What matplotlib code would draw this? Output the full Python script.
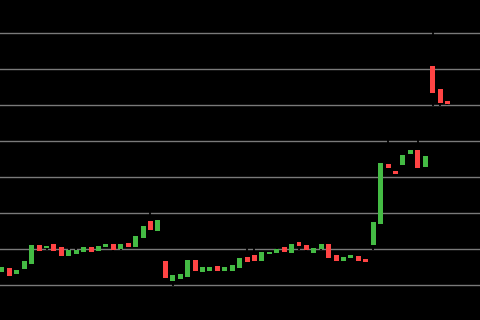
import matplotlib
matplotlib.use('Agg')
import matplotlib.pyplot as plt
import numpy as np

# candle data, one entry per session
opens = [13.6, 14.7, 13.0, 14.4, 15.8, 21.1, 20.3, 21.4, 20.6, 18.0,
         18.6, 19.1, 20.6, 19.4, 20.5, 21.4, 20.0, 21.7, 20.5, 23.0,
         27.8, 25.0, 16.7, 11.1, 11.7, 12.2, 16.9, 13.6, 13.9, 15.3,
         13.9, 13.9, 14.7, 17.8, 18.3, 16.7, 18.6, 18.9, 20.6, 18.9,
         21.9, 21.1, 18.9, 20.0, 21.4, 18.3, 16.7, 17.5, 18.1, 17.2,
         21.1, 26.9, 43.6, 41.7, 43.3, 46.4, 47.5, 42.8, 70.8, 64.4,
         61.1]
closes = [15.0, 12.5, 14.2, 16.7, 21.1, 19.4, 20.8, 19.4, 18.0, 19.7,
          19.7, 20.6, 19.1, 20.8, 21.4, 19.7, 21.4, 20.5, 23.6, 26.4,
          25.3, 28.1, 11.9, 12.8, 13.1, 16.9, 13.9, 15.0, 15.0, 13.9,
          15.0, 15.6, 17.5, 16.4, 16.7, 19.2, 19.2, 20.0, 19.1, 21.4,
          20.8, 19.7, 20.3, 21.4, 17.5, 16.7, 17.8, 18.3, 16.7, 16.4,
          27.5, 43.9, 42.5, 40.8, 46.1, 47.5, 42.5, 45.8, 63.3, 60.6,
          60.3]
highs = [15.3, 15.0, 14.5, 17.0, 21.4, 21.4, 21.1, 21.7, 20.9, 20.2,
         20.2, 20.9, 20.9, 21.1, 21.7, 21.7, 21.7, 22.0, 23.9, 26.7,
         30.3, 28.4, 17.0, 13.1, 13.4, 17.2, 17.2, 15.3, 15.3, 15.6,
         15.3, 15.9, 17.8, 20.2, 20.2, 19.5, 19.5, 20.3, 20.9, 21.7,
         22.2, 21.4, 20.6, 21.7, 21.7, 18.6, 18.1, 18.6, 18.4, 17.5,
         27.8, 44.2, 50.3, 42.0, 46.4, 47.8, 50.3, 46.1, 80.5, 64.7,
         61.4]
lows = [13.3, 12.2, 12.7, 14.1, 15.5, 19.1, 19.8, 19.1, 17.7, 17.7,
        18.3, 18.8, 18.8, 19.1, 20.2, 19.4, 19.7, 20.2, 20.2, 22.7,
        25.0, 24.7, 11.6, 9.7, 11.4, 11.9, 13.6, 13.3, 13.6, 13.6,
        13.6, 13.6, 14.4, 16.1, 16.4, 16.4, 18.3, 18.6, 18.8, 18.6,
        19.7, 19.4, 18.6, 19.7, 17.2, 16.4, 16.4, 17.2, 16.4, 16.1,
        19.7, 26.6, 42.2, 40.5, 43.0, 46.1, 42.2, 42.5, 59.7, 59.7,
        60.0]

o = np.array(opens)
c = np.array(closes)
x = np.arange(len(o))
colors = np.where(c >= o, '#44bb44', '#ff4444')

fig = plt.figure(figsize=(4.8, 3.2), dpi=100)
fig.patch.set_facecolor('black')
ax = fig.add_axes([0, 0, 1, 1])
ax.set_facecolor('black')

# wicks are black, so they only show where they cut the grid lines
ax.vlines(x, lows, highs, color='black', linewidth=1.3, zorder=2)
ax.bar(x, c - o, bottom=o, width=0.67, color=colors, zorder=3)

ax.set_xlim(-0.27, 64.38)
ax.set_ylim(0.278, 89.17)
ax.set_yticks(np.arange(10, 90, 10))
ax.grid(axis='y', color='#7a7a7a', linewidth=1)
ax.set_axisbelow(True)
ax.tick_params(left=False, bottom=False, labelleft=False, labelbottom=False)
for s in ax.spines.values():
    s.set_visible(False)

fig.savefig('out.png', dpi=100, facecolor='black')
